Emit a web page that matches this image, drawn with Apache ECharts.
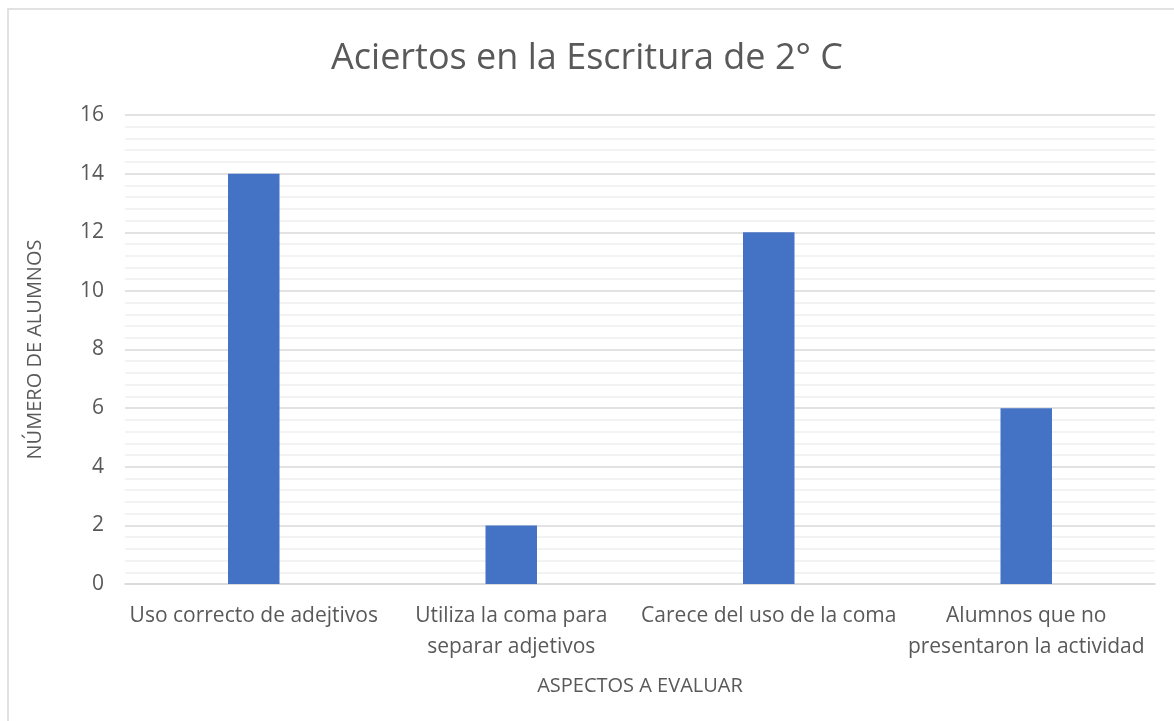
<!DOCTYPE html>
<html>
<head>
<meta charset="utf-8">
<script src="https://cdn.jsdelivr.net/npm/echarts@6/dist/echarts.min.js"></script>
<style>
  html, body { margin: 0; padding: 0; background: #fff; }
  #chart { width: 1174px; height: 721px; }
</style>
</head>
<body>
<div id="chart"></div>
<script>
// datos
const categories = [
  'Uso correcto de adejtivos',
  'Utiliza la coma para\nseparar adjetivos',
  'Carece del uso de la coma',
  'Alumnos que no\npresentaron la actividad'
];
const alumnos = [14, 2, 12, 6];

const font = '"Open Sans", "Noto Sans", sans-serif';
const textColor = '#595959';

const chart = echarts.init(document.getElementById('chart'));
chart.setOption({
  backgroundColor: '#fff',
  animation: false,
  textStyle: { fontFamily: font },
  graphic: [{
    type: 'rect',
    shape: { x: 8, y: 9, width: 1200, height: 760 },
    style: { fill: 'none', stroke: '#d9d9d9', lineWidth: 1.5 },
    silent: true
  }],
  title: {
    text: 'Aciertos en la Escritura de 2° C',
    left: 'center',
    top: 36,
    textStyle: { fontFamily: font, fontSize: 36, fontWeight: 'normal', color: textColor }
  },
  grid: { left: 125, right: 19, top: 115, bottom: 137 },
  xAxis: {
    type: 'category',
    data: categories,
    name: 'ASPECTOS A EVALUAR',
    nameLocation: 'middle',
    nameGap: 92,
    nameTextStyle: { fontFamily: font, fontSize: 20, color: textColor },
    axisLine: { lineStyle: { color: '#d9d9d9', width: 1.5 } },
    axisTick: { show: false },
    axisLabel: {
      interval: 0,
      margin: 17,
      fontSize: 21,
      lineHeight: 31,
      color: textColor,
      fontFamily: font
    }
  },
  yAxis: {
    type: 'value',
    min: 0,
    max: 16,
    interval: 2,
    name: 'NÚMERO DE ALUMNOS',
    nameLocation: 'middle',
    nameGap: 80,
    nameTextStyle: { fontFamily: font, fontSize: 20, color: textColor },
    axisLine: { show: false },
    axisTick: { show: false },
    axisLabel: { fontSize: 21, color: textColor, margin: 21, fontFamily: font },
    splitLine: { lineStyle: { color: '#d9d9d9', width: 1.5 } },
    minorTick: { show: false, splitNumber: 5 },
    minorSplitLine: { show: true, lineStyle: { color: '#f0f0f0', width: 1.5 } }
  },
  series: [{
    type: 'bar',
    data: alumnos,
    barWidth: '20%',
    itemStyle: { color: '#4472c4' }
  }]
});
</script>
</body>
</html>
